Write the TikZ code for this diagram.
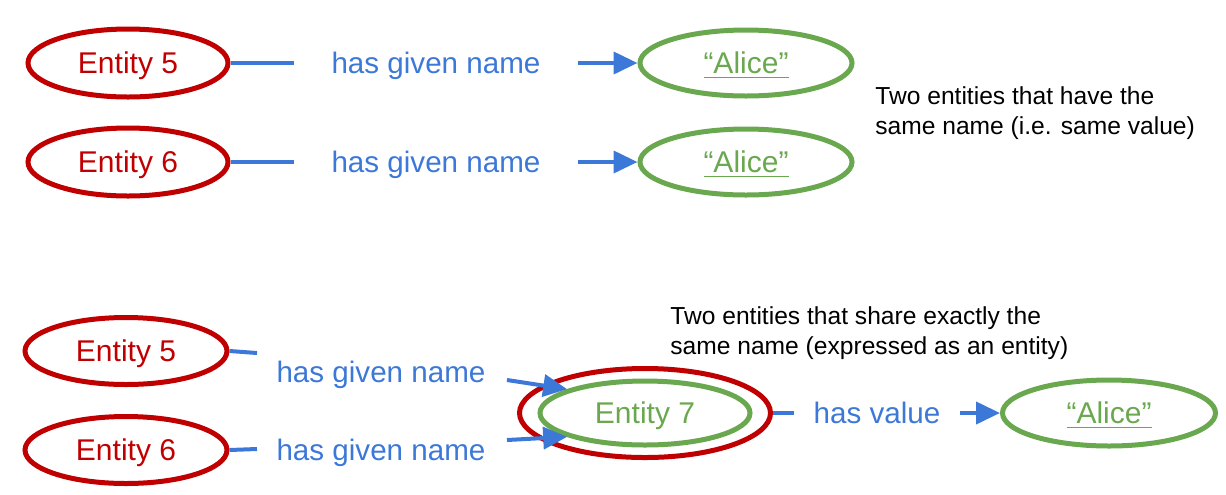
\documentclass[tikz,border=0pt]{standalone}
\usepackage{fontspec}
\setmainfont{Liberation Sans}
\usepackage{tikz}
\usetikzlibrary{positioning, shapes.geometric, arrows.meta}
\usepackage{xcolor}

\definecolor{entred}{HTML}{C00000}
\definecolor{relblue}{HTML}{3C78D8}
\definecolor{valgreen}{HTML}{6AA84F}

\tikzset{
    entity/.style={ellipse, draw=entred, line width=2.5pt, text=entred, text depth=0pt,
        minimum width=100pt, minimum height=34pt, font=\fontsize{15}{18}\selectfont},
    value/.style={ellipse, draw=valgreen, line width=2.5pt, text=valgreen, text depth=0pt,
        minimum width=106pt, minimum height=33pt, font=\fontsize{15}{18}\selectfont},
    relation/.style={text=relblue, text depth=0pt, inner ysep=2pt, font=\fontsize{14.8}{18}\selectfont},
    link/.style={draw=relblue, line width=2pt},
    linkarrow/.style={link, -{Triangle[length=12pt, width=11pt]}},
    note/.style={align=left, anchor=west, inner sep=0pt, font=\fontsize{12.3}{15}\selectfont}
}

\begin{document}
\begin{tikzpicture}[x=0.5pt, y=-0.5pt]
    \useasboundingbox (0,0) rectangle (1226,494);

    % Same value
    \foreach \i/\y/\n in {1/63/5, 2/162/6} {
        \node[entity] (e\i) at (128,\y) {Entity \n};
        \node[relation, inner xsep=18.5pt] (l\i) at (436,\y) {has given name};
        \node[value] (a\i) at (746,\y) {\underline{“Alice”}};
        \draw[link] (e\i) -- (l\i);
        \draw[linkarrow] (l\i) -- (a\i);
    }
    \node[note] (n1) at (875,113) {Two entities that have the\\same name (i.e. same value)};

    % Shared name entity
    \node[entity, minimum width=101pt, minimum height=33.5pt] (e5b) at (126,351) {Entity 5};
    \node[entity, minimum width=101pt, minimum height=33.5pt] (e6b) at (126,450) {Entity 6};
    \node[relation] (l3) at (381,372) {has given name};
    \node[relation] (l4) at (381,450) {has given name};
    \node[entity, minimum width=125.5pt, minimum height=44.5pt] (e7) at (645,413) {};
    \node[value, minimum width=105pt, minimum height=32pt] (e7in) at (645,413) {Entity 7};
    \node[relation, inner xsep=9.5pt] (l5) at (877,413) {has value};
    \node[value, minimum width=106.5pt, minimum height=33pt] (a3) at (1109,413) {\underline{“Alice”}};
    \node[note] (n2) at (670,333) {Two entities that share exactly the\\same name (expressed as an entity)};

    \coordinate (k1) at (257,353);
    \coordinate (k2) at (507,380);
    \coordinate (k3) at (257,449);
    \coordinate (k4) at (507,440);
    \draw[link] (e5b.east) -- (k1);
    \draw[linkarrow] (k2) -- (e7in.163);
    \draw[link] (e6b.east) -- (k3);
    \draw[linkarrow] (k4) -- (e7in.197);
    \draw[link] (e7) -- (l5);
    \draw[linkarrow] (l5) -- (a3);

\end{tikzpicture}
\end{document}
